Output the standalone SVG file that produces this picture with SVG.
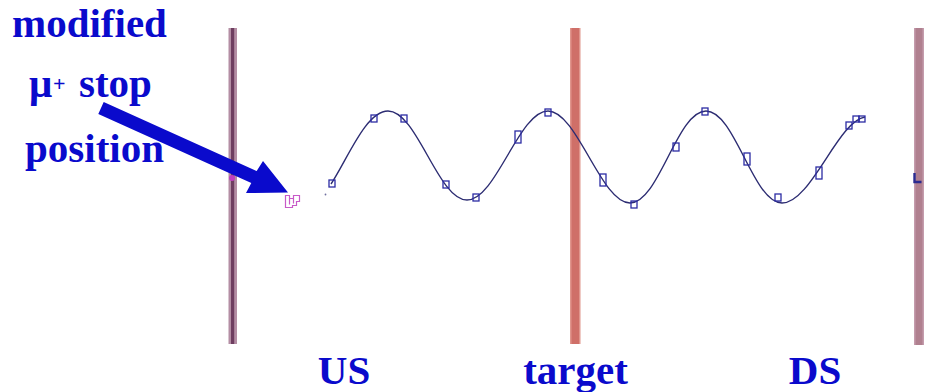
<svg xmlns="http://www.w3.org/2000/svg" width="925" height="392" viewBox="0 0 925 392">
<style>
.lbl{font-family:"Liberation Serif","Times New Roman",serif;font-weight:bold;fill:#0a0acc;font-size:41px}
.sq{fill:none;stroke:#2c2ca4;stroke-width:1.3}
.mg{fill:none;stroke:#c85ac8;stroke-width:1.2}
</style>
<rect width="925" height="392" fill="#ffffff"/>
<g id="bar-us">
<rect x="228.5" y="28" width="8.5" height="316" fill="#b48ea4"/>
<rect x="231" y="28" width="3.2" height="316" fill="#6e3e60"/>
</g>
<g id="bar-target">
<rect x="570" y="28" width="10.5" height="316" fill="#e0958c"/>
<rect x="571.5" y="28" width="7.5" height="316" fill="#cf6f68"/>
</g>
<g id="bar-ds">
<rect x="914" y="28" width="10" height="317" fill="#c49cac"/>
<rect x="915.5" y="28" width="7" height="317" fill="#b0808f"/>
</g>
<g id="track">
<path d="M331,184 C348,158 366,111 388,111 C417,111 438,200 467,200 C496,200 519,111 548,111 C577,111 601,203 630,203 C659,203 677,111 706,111 C735,111 753,203 782,203 C811,203 838,121 865,117" fill="none" stroke="#2c2c72" stroke-width="1.4"/>
<rect class="sq" x="329" y="180" width="6" height="7"/>
<rect class="sq" x="371" y="115" width="6" height="7"/>
<rect class="sq" x="401" y="115" width="6" height="7"/>
<rect class="sq" x="443" y="181" width="6" height="7"/>
<rect class="sq" x="473" y="194" width="6" height="7"/>
<rect class="sq" x="515" y="131" width="6" height="12"/>
<rect class="sq" x="545" y="109" width="6" height="7"/>
<rect class="sq" x="600" y="174" width="6" height="12"/>
<rect class="sq" x="631" y="201" width="6" height="7"/>
<rect class="sq" x="673" y="143" width="6" height="8"/>
<rect class="sq" x="702" y="108" width="6" height="7"/>
<rect class="sq" x="744" y="153" width="6" height="12"/>
<rect class="sq" x="775" y="194" width="6" height="7"/>
<rect class="sq" x="816" y="167" width="6" height="12"/>
<rect class="sq" x="846" y="122" width="6" height="7"/>
<rect class="sq" x="853" y="116" width="6" height="6"/>
<rect class="sq" x="859" y="116" width="6" height="6"/>
<circle cx="325.5" cy="194.5" r="0.9" fill="#7070a0"/>
<path d="M914.5,173 v9 h7" fill="none" stroke="#2a2a90" stroke-width="2.4"/>
</g>
<g id="stop-marks">
<circle cx="232" cy="178" r="3" fill="#c040c0"/>
<path class="mg" d="M285.5,195.5 h4 v3 h4 v-3 h6 v6 h-3 v4 h-4 v2 h-7 z M289.5,198.5 v6 M293.5,198.5 v5"/>
</g>
<g id="arrow">
<polygon points="103.7,102.1 256.7,171.1 263,161 288,192.5 246,193 251.3,182.9 98.3,113.9" fill="#0a0acc"/>
</g>
<g id="labels">
<text class="lbl" x="12" y="37">modified</text>
<text class="lbl" x="29" y="97">μ</text>
<text class="lbl" x="53" y="91" style="font-size:22px">+</text>
<text class="lbl" x="79" y="97">stop</text>
<text class="lbl" x="25" y="162">position</text>
<text class="lbl" x="344" y="384" text-anchor="middle">US</text>
<text class="lbl" x="575.5" y="384" text-anchor="middle">target</text>
<text class="lbl" x="815" y="384" text-anchor="middle">DS</text>
</g>
</svg>
